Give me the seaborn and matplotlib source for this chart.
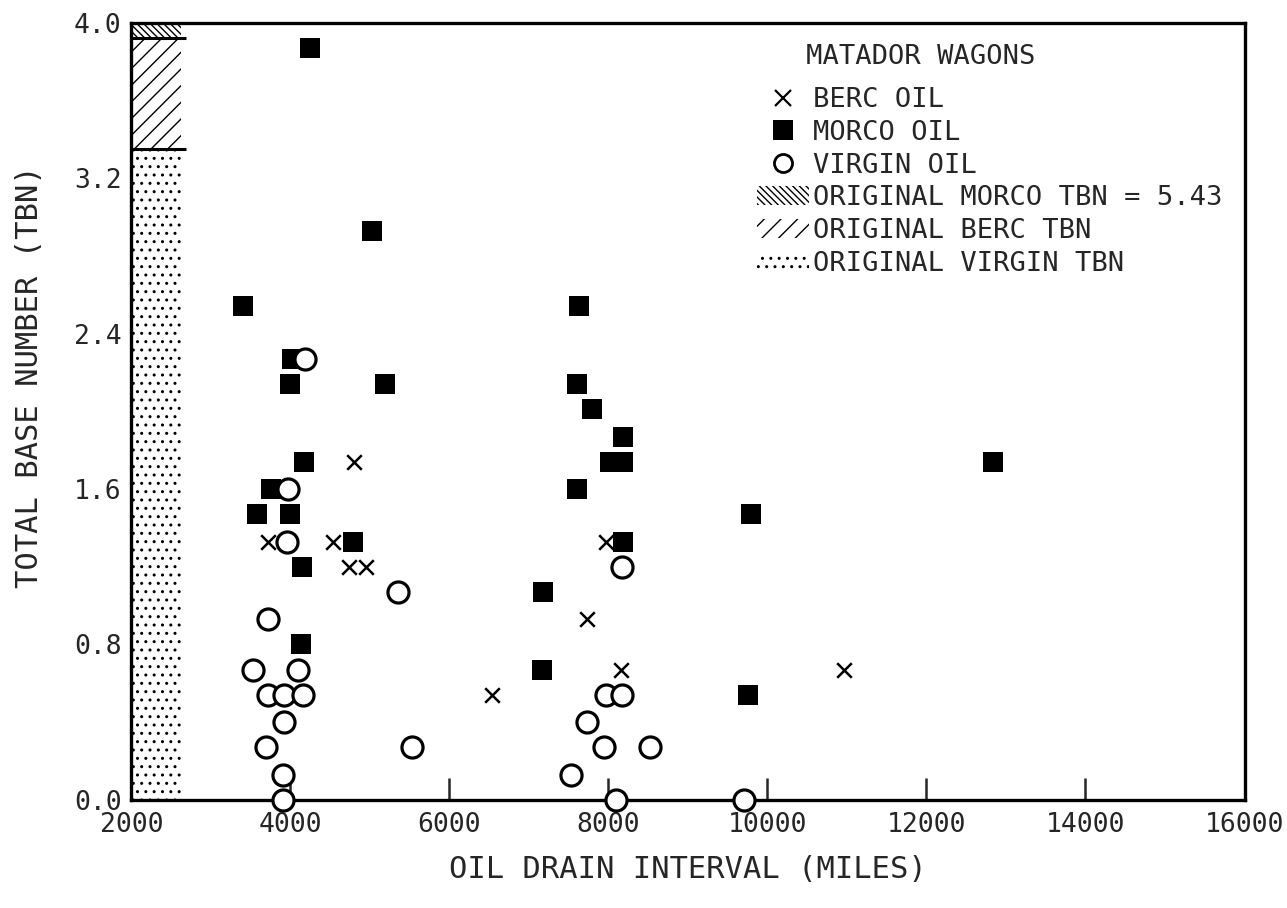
import matplotlib
matplotlib.use("Agg")
import matplotlib.pyplot as plt
from matplotlib.patches import Patch
from matplotlib.lines import Line2D
import seaborn as sns
import pandas as pd

# ---- data ----
berc_x = [4800, 3720, 4540, 4740, 4950, 6540, 7970, 7730, 8160, 10960]
berc_y = [1.74, 1.33, 1.33, 1.20, 1.20, 0.54, 1.33, 0.93, 0.67, 0.67]

morco_x = [4250, 5030, 3410, 4020, 3990, 5190, 4170, 3760, 3580, 4000, 4790, 4150, 4140,
           7630, 7600, 7790, 8180, 8020, 8180, 7600, 9790, 8180, 7180, 7160, 9760, 12840]
morco_y = [3.87, 2.93, 2.54, 2.27, 2.14, 2.14, 1.74, 1.60, 1.47, 1.47, 1.33, 1.20, 0.80,
           2.54, 2.14, 2.01, 1.87, 1.74, 1.74, 1.60, 1.47, 1.33, 1.07, 0.67, 0.54, 1.74]

virgin_x = [4190, 3970, 3960, 5350, 3720, 3530, 4100, 3720, 3920, 4160, 3920, 3700, 5530,
            3910, 3910, 8170, 7970, 8170, 7730, 7940, 8520, 7530, 8090, 9710]
virgin_y = [2.27, 1.60, 1.33, 1.07, 0.93, 0.67, 0.67, 0.54, 0.54, 0.54, 0.40, 0.27, 0.27,
            0.13, 0.00, 1.20, 0.54, 0.54, 0.40, 0.27, 0.27, 0.13, 0.00, 0.00]

original_tbn_labels = ["ORIGINAL MORCO TBN = 5.43", "ORIGINAL BERC TBN", "ORIGINAL VIRGIN TBN"]
original_tbn = [5.43, 3.92, 3.35]
original_bar_x = 2000
original_bar_w = 620

x_ticks = [2000, 4000, 6000, 8000, 10000, 12000, 14000, 16000]
y_ticks = [0.0, 0.8, 1.6, 2.4, 3.2, 4.0]

sns.set_theme(style="ticks")
plt.rcParams['font.family'] = ['DejaVu Sans Mono', 'DejaVu Sans']
plt.rcParams['hatch.color'] = 'black'
plt.rcParams['hatch.linewidth'] = 1.0

fig = plt.figure(figsize=(12.87, 9.08), dpi=100)
ax = fig.add_axes([0.102, 0.119, 0.865, 0.856])

hatches = ['\\\\\\\\\\', '//', '..']
for h, hatch in zip(original_tbn, hatches):
    ax.bar([original_bar_x], [h], width=original_bar_w, align='edge',
           facecolor='white', edgecolor='black', linewidth=0, hatch=hatch, zorder=1)
for h in original_tbn[1:]:
    ax.hlines(h, original_bar_x, original_bar_x + original_bar_w * 1.12, color='black', lw=2.2, zorder=2)

berc = pd.DataFrame({'x': berc_x, 'y': berc_y})
morco = pd.DataFrame({'x': morco_x, 'y': morco_y})
virgin = pd.DataFrame({'x': virgin_x, 'y': virgin_y})

sns.scatterplot(data=berc, x='x', y='y', marker='x', color='black', s=110,
                linewidth=1.8, ax=ax, zorder=3)
sns.scatterplot(data=morco, x='x', y='y', marker='s', color='black', s=210,
                linewidth=0, ax=ax, zorder=4)
sns.scatterplot(data=virgin, x='x', y='y', marker='o', facecolor='white',
                edgecolor='black', s=230, linewidth=2.3, ax=ax, zorder=5, clip_on=False)

ax.set_xlim(2000, 16000)
ax.set_ylim(0, 4.0)
ax.set_xticks(x_ticks)
ax.set_yticks(y_ticks)
ax.set_xticklabels([str(v) for v in x_ticks])
ax.set_yticklabels([f"{v:.1f}" for v in y_ticks])
ax.tick_params(direction='in', length=16, width=1.8, labelsize=19, pad=7,
               top=False, right=False)
ax.tick_params(axis='x', pad=9)
for s in ax.spines.values():
    s.set_linewidth(2.4)
    s.set_color('black')
    s.set_visible(True)

ax.set_xlabel("OIL DRAIN INTERVAL (MILES)", fontsize=22, labelpad=12)
ax.set_ylabel("TOTAL BASE NUMBER (TBN)", fontsize=22)
ax.yaxis.set_label_coords(-0.078, 0.545)

handles = [
    Line2D([], [], marker='x', ls='', color='black', ms=11, mew=1.6),
    Line2D([], [], marker='s', ls='', color='black', ms=15, mew=0),
    Line2D([], [], marker='o', ls='', mfc='white', mec='black', ms=13, mew=2),
    Patch(facecolor='white', edgecolor='black', linewidth=0, hatch='\\\\\\\\\\'),
    Patch(facecolor='white', edgecolor='black', linewidth=0, hatch='//'),
    Patch(facecolor='white', edgecolor='black', linewidth=0, hatch='..'),
]
labels = ["BERC OIL", "MORCO OIL", "VIRGIN OIL"] + original_tbn_labels
leg = ax.legend(handles, labels, title="   MATADOR WAGONS", loc='upper left',
                bbox_to_anchor=(0.543, 1.0), frameon=False, fontsize=19.5,
                title_fontsize=19.5, handlelength=1.9, handletextpad=0.15,
                labelspacing=0.25, alignment='left', borderaxespad=0.4)
leg._legend_box.sep = 12

fig.savefig("out.png", dpi=100, facecolor='white')
